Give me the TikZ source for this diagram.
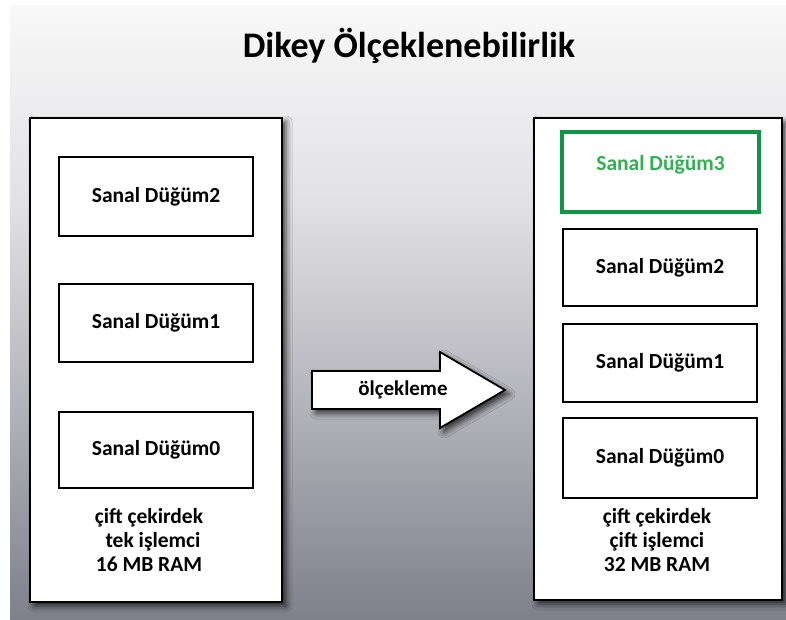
\documentclass[tikz,border=0pt]{standalone}
\usepackage{fontspec}
\setmainfont{Carlito}
\usetikzlibrary{shadows.blur}

\definecolor{bgA}{RGB}{248,248,248}
\definecolor{bgB}{RGB}{226,226,229}
\definecolor{bgC}{RGB}{180,180,187}
\definecolor{bgD}{RGB}{128,128,140}
\definecolor{nodegreen}{RGB}{14,150,70}
\definecolor{labelgreen}{RGB}{50,176,82}

\begin{document}
\begin{tikzpicture}[x=1pt,y=-1pt,
  softshadow/.style={blur shadow={shadow xshift=4pt, shadow yshift=-4pt,
      shadow blur radius=6pt, shadow opacity=75}},
  host/.style={draw=black, line width=2pt, fill=white, softshadow},
  vnode/.style={draw=black, line width=2pt, fill=white,
      minimum width=194pt, font=\fontsize{21.5}{26}\selectfont\bfseries},
  newnode/.style={vnode, draw=nodegreen, line width=4.5pt, minimum width=197pt},
  spec/.style={align=center, font=\fontsize{21.5}{24}\selectfont\bfseries},
  shiftbody/.style={draw=black, line width=1.8pt, fill=white, line join=miter, softshadow},
  titletext/.style={font=\fontsize{36}{42}\selectfont\bfseries}
]
\useasboundingbox (0,0) rectangle (786,619);

% page background: white margin, then a grey vertical gradient
\fill[white] (0,0) rectangle (786,619);
\fill[top color=bgA, bottom color=bgB] (10,5) rectangle (786,200.5);
\fill[top color=bgB, bottom color=bgC] (10,200) rectangle (786,400.5);
\fill[top color=bgC, bottom color=bgD] (10,400) rectangle (786,619);

% heading
\node[titletext] (title) at (409,46) {Dikey Ölçeklenebilirlik};

% host before scaling
\node[host, minimum width=252pt, minimum height=484pt] (hostA) at (156,360) {};
\node[vnode, minimum height=79pt] (a2) at (156,196.5) {Sanal Düğüm2};
\node[vnode, minimum height=78pt] (a1) at (156,323) {Sanal Düğüm1};
\node[vnode, minimum height=76pt] (a0) at (156,450) {Sanal Düğüm0};
\node[spec] (specA) at (149,540) {çift çekirdek\\\hspace*{8pt}tek işlemci\\16 MB RAM};

% host after scaling
\node[host, minimum width=248pt, minimum height=482pt] (hostB) at (658,359) {};
\node[newnode, minimum height=80pt,
      label={[yshift=7pt, text=labelgreen, font=\fontsize{21.5}{26}\selectfont\bfseries]center:Sanal Düğüm3}]
      (b3) at (660.5,172) {};
\node[vnode, minimum height=77pt] (b2) at (660,267.5) {Sanal Düğüm2};
\node[vnode, minimum height=78pt] (b1) at (660,363) {Sanal Düğüm1};
\node[vnode, minimum height=80pt] (b0) at (660,458) {Sanal Düğüm0};
\node[spec] (specB) at (657,540) {çift çekirdek\\çift işlemci\\32 MB RAM};

% block arrow between the two hosts
\draw[shiftbody] (312,371) -- (440,371) -- (440,352) -- (505,390)
  -- (440,428) -- (440,409) -- (312,409) -- cycle;
\node[font=\fontsize{21}{26}\selectfont\bfseries] (shiftlabel) at (403,390) {ölçekleme};
\end{tikzpicture}
\end{document}
